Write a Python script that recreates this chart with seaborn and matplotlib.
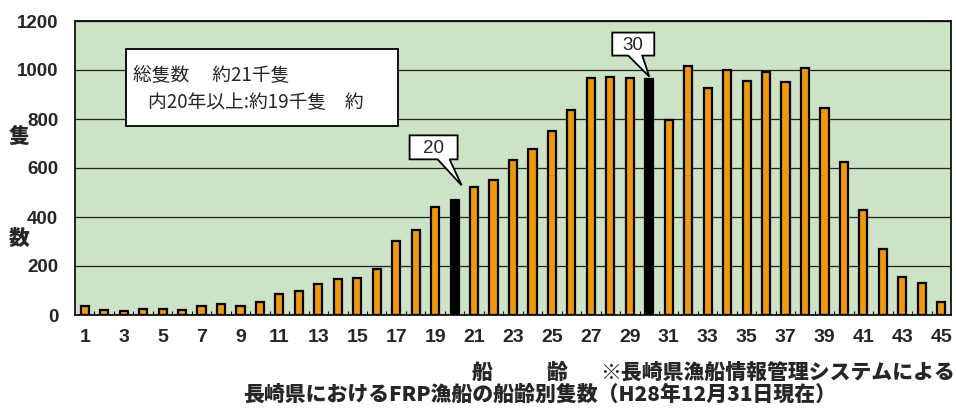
import matplotlib
matplotlib.use("Agg")
import matplotlib.pyplot as plt
import matplotlib.transforms as mtransforms
from matplotlib.patches import Rectangle, Polygon
import seaborn as sns
import pandas as pd

# Fleet of FRP fishing vessels in Nagasaki by hull age (years)
ages = list(range(1, 46))
counts = [38, 20, 16, 26, 23, 19, 38, 44, 37, 52,
          86, 98, 127, 147, 151, 189, 301, 347, 441, 468,
          522, 551, 634, 678, 752, 837, 966, 971, 966, 965,
          795, 1018, 928, 999, 954, 993, 951, 1009, 845, 624,
          430, 269, 155, 132, 53]
highlight_ages = [20, 30]
y_ticks = [0, 200, 400, 600, 800, 1000, 1200]
x_tick_labels = [str(a) if a % 2 == 1 else "" for a in ages]

summary_line1 = "総隻数\u3000 約21千隻"
summary_line2 = "内20年以上:約19千隻\u3000約"
y_label_chars = ["隻", "数"]
x_label_chars = ["船", "齢"]
source_note = "※長崎県漁船情報管理システムによる"
title = "長崎県におけるFRP漁船の船齢別隻数（H28年12月31日現在）"

ORANGE = "#F39800"
BLACK = "#000000"
PLOT_BG = "#CCE3C6"

sns.set_theme(style="white")
plt.rcParams["font.family"] = ["Noto Sans CJK JP", "DejaVu Sans"]

df = pd.DataFrame({"age": [str(a) for a in ages], "count": counts})
palette = {str(a): (BLACK if a in highlight_ages else ORANGE) for a in ages}

fig = plt.figure(figsize=(9.56, 4.08), dpi=100)
ax = fig.add_axes([75 / 956, 93 / 408, 876 / 956, 294 / 408])
ax.set_facecolor(PLOT_BG)

sns.barplot(data=df, x="age", y="count", hue="age", palette=palette,
            legend=False, width=0.42, edgecolor="black", linewidth=1.6,
            saturation=1, ax=ax, zorder=3)

ax.set_xlim(-0.5, len(ages) - 0.5)
ax.set_ylim(0, 1200)
ax.set_yticks(y_ticks)
ax.set_yticklabels([str(v) for v in y_ticks], family="Liberation Sans",
                   fontweight="bold", fontsize=13.5)
ax.set_xticks(range(len(ages)))
ax.set_xticklabels(x_tick_labels, family="Liberation Sans",
                   fontweight="bold", fontsize=14)
ax.set_xticks([i - 0.5 for i in range(1, len(ages))], minor=True)
ax.tick_params(axis="y", length=0, pad=12)
ax.tick_params(axis="x", which="major", length=0, pad=10)
ax.tick_params(axis="x", which="minor", direction="in", length=3,
               width=0.8, color="black", bottom=True)
ax.set_xlabel("")
ax.set_ylabel("")

ax.set_axisbelow(True)
ax.yaxis.grid(True, color="#222222", linewidth=0.9)
ax.xaxis.grid(False)
for side in ["left", "right", "top", "bottom"]:
    ax.spines[side].set_visible(True)
    ax.spines[side].set_color("black")
    ax.spines[side].set_linewidth(1.2)

# summary box
ax.add_patch(Rectangle((0.058, 0.643), 0.311, 0.262, transform=ax.transAxes,
                       facecolor="white", edgecolor="black", linewidth=1.3,
                       zorder=5))
ax.text(0.066, 0.816, summary_line1, transform=ax.transAxes, fontsize=13.5,
        va="center", ha="left", zorder=6)
ax.text(0.083, 0.721, summary_line2, transform=ax.transAxes, fontsize=13.5,
        va="center", ha="left", zorder=6)

# speech-bubble callouts pointing at the marked ages
px = mtransforms.Affine2D().scale(1 / 100.0) + fig.dpi_scale_trans


def callout(age, label, tip, box, base):
    idx = ages.index(age)
    anchor = mtransforms.ScaledTranslation(idx, counts[idx], ax.transData)
    tr = px + anchor
    tx, ty = tip
    left, right, bottom, top = box
    b0, b1 = base
    verts = [(left, bottom), (left, top), (right, top), (right, bottom),
             (b1, bottom), (tx, ty), (b0, bottom)]
    ax.add_patch(Polygon(verts, closed=True, transform=tr, facecolor="white",
                         edgecolor="black", linewidth=1.3, zorder=7,
                         clip_on=False))
    ax.text((left + right) / 2, (bottom + top) / 2 - 1, label, transform=tr,
            fontsize=13.5, family="Liberation Sans", ha="center", va="center",
            zorder=8)


# offsets in pixels relative to the bar top (x right, y up)
callout(20, "20", tip=(7, 15), box=(-45, 3, 41, 65), base=(-17, -5))
callout(30, "30", tip=(0, 2), box=(-37, 5, 23, 46), base=(-21, -7))

# axis captions
cap = dict(fontsize=15, fontweight="heavy", ha="center", va="center")
fig.text(19 / 956, 1 - 137 / 408, y_label_chars[0], **cap)
fig.text(19 / 956, 1 - 239 / 408, y_label_chars[1], **cap)
fig.text(482 / 956, 1 - 373 / 408, x_label_chars[0], **cap)
fig.text(557 / 956, 1 - 373 / 408, x_label_chars[1], **cap)
fig.text(955 / 956, 1 - 373 / 408, source_note, fontsize=15,
         fontweight="heavy", ha="right", va="center")
fig.text(540 / 956, 1 - 395 / 408, title, fontsize=15,
         fontweight="heavy", ha="center", va="center")

fig.savefig("out.png", dpi=100, facecolor="white")
